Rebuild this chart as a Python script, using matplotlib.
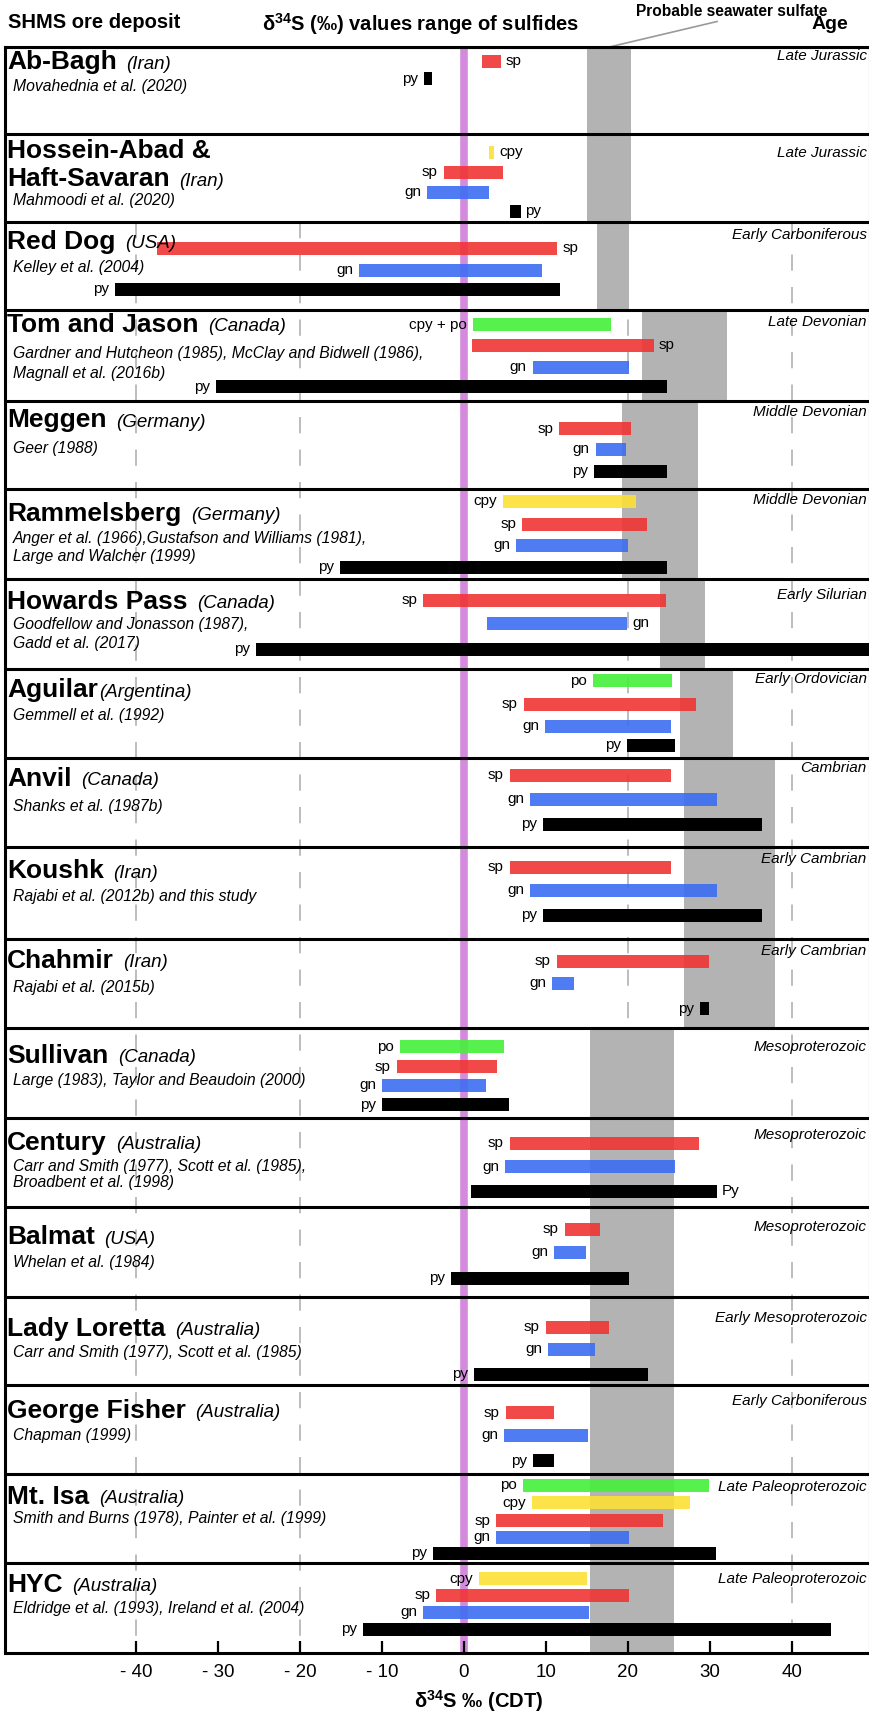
import matplotlib.pyplot as plt

plt.rcParams['font.family'] = ['Liberation Sans', 'DejaVu Sans']
plt.rcParams['mathtext.fontset'] = 'custom'
plt.rcParams['mathtext.rm'] = 'Liberation Sans'
plt.rcParams['mathtext.bf'] = 'Liberation Sans:bold'

# deposit names (one entry per line), countries, references and ages
deposits = [["Ab-Bagh"], ["Hossein-Abad &", "Haft-Savaran"], ["Red Dog"], ["Tom and Jason"],
            ["Meggen"], ["Rammelsberg"], ["Howards Pass"], ["Aguilar"], ["Anvil"], ["Koushk"],
            ["Chahmir"], ["Sullivan"], ["Century"], ["Balmat"], ["Lady Loretta"],
            ["George Fisher"], ["Mt. Isa"], ["HYC"]]
countries = ["(Iran)", "(Iran)", "(USA)", "(Canada)", "(Germany)", "(Germany)", "(Canada)",
             "(Argentina)", "(Canada)", "(Iran)", "(Iran)", "(Canada)", "(Australia)", "(USA)",
             "(Australia)", "(Australia)", "(Australia)", "(Australia)"]
references = [
    ["Movahednia et al. (2020)"],
    ["Mahmoodi et al. (2020)"],
    ["Kelley et al. (2004)"],
    ["Gardner and Hutcheon (1985), McClay and Bidwell (1986),", "Magnall et al. (2016b)"],
    ["Geer (1988)"],
    ["Anger et al. (1966),Gustafson and Williams (1981),", "Large and Walcher (1999)"],
    ["Goodfellow and Jonasson (1987),", "Gadd et al. (2017)"],
    ["Gemmell et al. (1992)"],
    ["Shanks et al. (1987b)"],
    ["Rajabi et al. (2012b) and this study"],
    ["Rajabi et al. (2015b)"],
    ["Large (1983), Taylor and Beaudoin (2000)"],
    ["Carr and Smith (1977), Scott et al. (1985),", "Broadbent et al. (1998)"],
    ["Whelan et al. (1984)"],
    ["Carr and Smith (1977), Scott et al. (1985)"],
    ["Chapman (1999)"],
    ["Smith and Burns (1978), Painter et al. (1999)"],
    ["Eldridge et al. (1993), Ireland et al. (2004)"],
]
ages = ["Late Jurassic", "Late Jurassic", "Early Carboniferous", "Late Devonian",
        "Middle Devonian", "Middle Devonian", "Early Silurian", "Early Ordovician", "Cambrian",
        "Early Cambrian", "Early Cambrian", "Mesoproterozoic", "Mesoproterozoic",
        "Mesoproterozoic", "Early Mesoproterozoic", "Early Carboniferous",
        "Late Paleoproterozoic", "Late Paleoproterozoic"]

# d34S ranges (permil CDT) of each sulfide
minerals = [["sp", "py"], ["cpy", "sp", "gn", "py"], ["sp", "gn", "py"],
            ["cpy + po", "sp", "gn", "py"], ["sp", "gn", "py"], ["cpy", "sp", "gn", "py"],
            ["sp", "gn", "py"], ["po", "sp", "gn", "py"], ["sp", "gn", "py"], ["sp", "gn", "py"],
            ["sp", "gn", "py"], ["po", "sp", "gn", "py"], ["sp", "gn", "Py"], ["sp", "gn", "py"],
            ["sp", "gn", "py"], ["sp", "gn", "py"], ["po", "cpy", "sp", "gn", "py"],
            ["cpy", "sp", "gn", "py"]]
lows = [[2.2, -4.9], [3.1, -2.5, -4.5, 5.6], [-37.5, -12.8, -42.6], [1.1, 1.0, 8.4, -30.3],
        [11.6, 16.1, 15.9], [4.8, 7.1, 6.4, -15.1], [-5.0, 2.8, -25.4], [15.7, 7.3, 9.9, 19.9],
        [5.6, 8.1, 9.6], [5.6, 8.1, 9.6], [11.3, 10.8, 28.8], [-7.8, -8.2, -10.0, -10.0],
        [5.6, 5.0, 0.8], [12.3, 11.0, -1.6], [10.0, 10.3, 1.2], [5.1, 4.9, 8.4],
        [7.2, 8.3, 3.9, 3.9, -3.8], [1.8, -3.4, -5.0, -12.3]]
highs = [[4.5, -3.9], [3.7, 4.8, 3.1, 6.9], [11.4, 9.5, 11.7], [18.0, 23.2, 20.2, 24.8],
         [20.4, 19.8, 24.8], [21.0, 22.3, 20.0, 24.8], [24.7, 19.9, 50.0], [25.4, 28.3, 25.3, 25.8],
         [25.3, 30.9, 36.4], [25.3, 30.9, 36.4], [29.9, 13.4, 29.9], [4.9, 4.0, 2.7, 5.5],
         [28.7, 25.8, 30.9], [16.6, 14.9, 20.1], [17.7, 16.0, 22.5], [11.0, 15.1, 11.0],
         [29.9, 27.6, 24.3, 20.2, 30.8], [15.0, 20.2, 15.3, 44.8]]

# probable seawater sulfate ranges: first panel, last panel, low, high
sw_first = [0, 2, 3, 4, 6, 7, 8, 11]
sw_last = [1, 2, 3, 5, 6, 7, 10, 17]
sw_low = [15.0, 16.3, 21.7, 19.3, 23.9, 26.4, 26.9, 15.4]
sw_high = [20.4, 20.1, 32.1, 28.6, 29.4, 32.9, 38.0, 25.7]

ticks = [-40, -30, -20, -10, 0, 10, 20, 30, 40]
tick_labels = ["- 40", "- 30", "- 20", "- 10", "0", "10", "20", "30", "40"]

colors = {"sp": "#f03434", "gn": "#3d6ef2", "py": "black", "Py": "black",
          "cpy": "#fde036", "po": "#45f03a", "cpy + po": "#45f03a"}

# layout in pixels: panel borders from the figure top, rows measured from each panel top
borders = [46.5, 134, 222, 309.5, 400.5, 488.5, 579, 668.5, 757.5, 846.5, 938.5, 1028,
           1117.5, 1206.5, 1297, 1385, 1473.5, 1563, 1653]
TOP = borders[0]
tops = [b - TOP for b in borders]
NP = len(deposits)
row_y = [[15, 32], [18, 38, 58, 77], [26, 48, 67], [15, 36, 58, 77], [28, 49, 71],
         [13, 35.5, 56.5, 78.5], [21, 44.5, 70.5], [12, 35.5, 57.5, 76.5], [18, 42, 66.5],
         [20.5, 43.5, 68.5], [22.5, 45, 70], [18.5, 38.5, 57.5, 76.5], [26, 49, 74],
         [23, 45.5, 71.5], [30, 52.5, 77], [27.5, 50.5, 75.5], [12, 29, 47, 63.5, 80],
         [15.5, 32, 49, 66]]
label_side = ["RL", "RLLR", "RLL", "LRLL", "LLL", "LLLL", "LRL", "LLLL", "LLL", "LLL", "LLL",
              "LLLL", "LLR", "LLL", "LLL", "LLL", "LLLLL", "LLLL"]
name_y = [[23], [24, 52.5], [27], [22], [27], [32], [30], [29], [28.5], [32], [29.5], [35],
          [32.5], [38], [39], [33], [30], [29]]
ref_y = [[44], [71.5], [50], [48.5, 68.5], [52], [54.5, 72.8], [50.5, 69], [51.5], [54],
         [54.5], [53.5], [57], [53, 69.8], [60], [60], [55], [49], [50]]
age_y = [14, 23, 17, 16.5, 15, 15, 20, 15, 15, 16.5, 17, 22.5, 22, 24, 25, 20.5, 17.5, 20]
name_gap = [7] * NP
name_gap[7] = 1
BAR_H = 13
PX = 8.19  # pixels per permil

fig = plt.figure(figsize=(8.7, 17.13), dpi=100)
ax = fig.add_axes([5 / 870, (1713 - borders[-1]) / 1713, 865 / 870,
                   (borders[-1] - TOP) / 1713])
ax.set_xlim(-459 / PX, 406 / PX)
ax.set_ylim(tops[-1], 0)
ax.set_yticks([])

# seawater sulfate bands
for f, l, lo, hi in zip(sw_first, sw_last, sw_low, sw_high):
    ax.fill_betweenx([tops[f], tops[l + 1]], lo, hi, color="#b3b3b3", lw=0, zorder=1)

# dashed guides
for g in [-40, -20, 20, 40]:
    ax.plot([g, g], [tops[2], tops[-1]], color="#b8b8b8", lw=1.3, dashes=(9, 9), zorder=0.5)

# zero line
ax.plot([0, 0], [0, tops[-1]], color="#d58bdd", lw=5.5, solid_capstyle="butt", zorder=1.5)

for i in range(NP):
    top = tops[i]
    for k, m in enumerate(minerals[i]):
        lo, hi = lows[i][k], highs[i][k]
        y = top + row_y[i][k]
        c = colors[m]
        ax.barh(y, hi - lo, left=lo, height=BAR_H, color=c,
                alpha=1.0 if c == "black" else 0.9, lw=0, zorder=3)
        if label_side[i][k] == "L":
            ax.text(lo - 6 / PX, y, m, ha="right", va="center", fontsize=11, zorder=5)
        else:
            ax.text(hi + 5 / PX, y, m, ha="left", va="center", fontsize=11, zorder=5)

    for k, line in enumerate(deposits[i]):
        t = ax.text(-457 / PX, top + name_y[i][k], line, fontsize=19, fontweight="bold",
                    ha="left", va="baseline", zorder=5)
    ax.annotate(countries[i], xy=(1, 0), xycoords=t, xytext=(name_gap[i], 1.1),
                textcoords="offset points", fontsize=13.5, style="italic",
                ha="left", va="bottom", zorder=5)
    for k, line in enumerate(references[i]):
        ax.text(-451 / PX, top + ref_y[i][k], line, fontsize=11.3, style="italic",
                ha="left", va="baseline", zorder=5)
    ax.text(402.7 / PX, top + age_y[i], ages[i], fontsize=11, style="italic",
            ha="right", va="baseline", zorder=5)
    ax.axhline(top, color="black", lw=2.2, zorder=6)

for side in ["left", "right", "top", "bottom"]:
    ax.spines[side].set_linewidth(2.2)
    ax.spines[side].set_zorder(6)

ax.set_xticks(ticks)
ax.set_xticklabels(tick_labels, fontsize=13.5)
ax.tick_params(axis="x", direction="in", length=8.5, width=1.6, pad=8)

# headings above the panels
ax.text(-456 / PX, -23.5, "SHMS ore deposit", fontsize=14.5, fontweight="bold",
        ha="left", va="center")
ax.text(-43 / PX, -22.5, r"δ$^{\mathbf{34}}$S (‰) values range of sulfides", fontsize=14.5,
        fontweight="bold", ha="center", va="center")
ax.text(366 / PX, -22, "Age", fontsize=14, fontweight="bold", ha="center", va="center")
ax.text(268 / PX, -35, "Probable seawater sulfate", fontsize=11.2, fontweight="bold",
        ha="center", va="center")
ax.plot([18.0, 30.9], [0, -25], color="#9a9a9a", lw=1.2, clip_on=False)

ax.text(1.8, tops[-1] + 48, r"δ$^{\mathbf{34}}$S ‰ (CDT)", fontsize=14.5, fontweight="bold",
        ha="center", va="center")

fig.savefig("out.png", dpi=100)
